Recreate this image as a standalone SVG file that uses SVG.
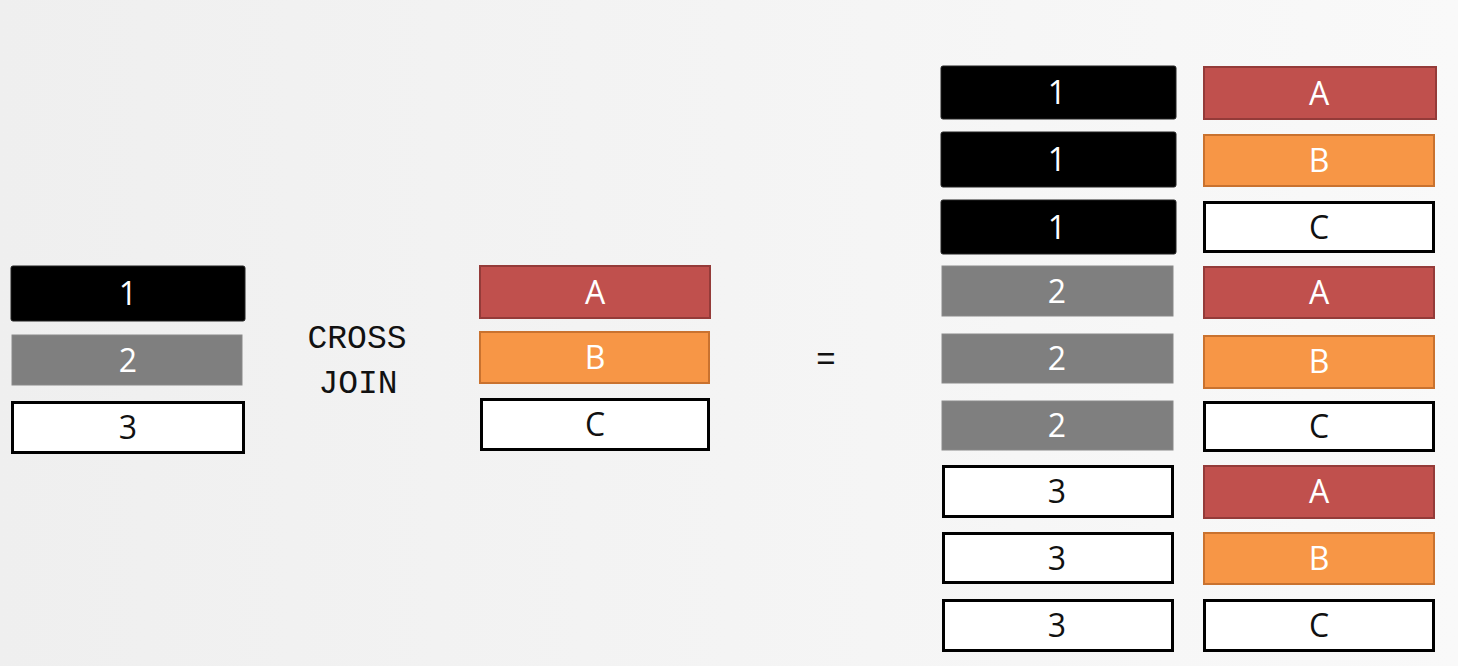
<svg xmlns="http://www.w3.org/2000/svg" width="1458" height="666" viewBox="0 0 1458 666">
<defs>
<linearGradient id="bg" x1="0" y1="0" x2="1" y2="0">
<stop offset="0" stop-color="#efefef"/>
<stop offset="1" stop-color="#f9f9f9"/>
</linearGradient>
</defs>
<style>
.blk{fill:#000;stroke:#222;stroke-width:1}
.gry{fill:#7f7f7f;stroke:#8a8a8a;stroke-width:1}
.wht{fill:#fff;stroke:#000;stroke-width:3}
.red{fill:#c0504d;stroke:#943b39;stroke-width:2}
.org{fill:#f79646;stroke:#c9722f;stroke-width:2}
.t{font-family:"Open Sans","Noto Sans",sans-serif;font-size:32px;text-anchor:middle}
.tw{fill:#fff}
.tb{fill:#111}
.mono{font-family:"Liberation Mono","DejaVu Sans Mono",monospace;font-size:33px;fill:#111;text-anchor:middle}
</style>
<rect width="1458" height="666" fill="url(#bg)"/>

<g id="left-1"><rect class="blk" x="11" y="266" width="234" height="55" rx="2"/><text class="t tw" x="128" y="305">1</text></g>
<g id="left-2"><rect class="gry" x="12" y="335" width="230" height="50"/><text class="t tw" x="128" y="371.5">2</text></g>
<g id="left-3"><rect class="wht" x="12.5" y="402.5" width="231" height="50"/><text class="t tb" x="128" y="439">3</text></g>

<g id="label-cross-join"><text class="mono" x="357" y="348">CROSS</text><text class="mono" x="358" y="393">JOIN</text></g>

<g id="mid-A"><rect class="red" x="480" y="266" width="230" height="52"/><text class="t tw" x="595" y="303.5">A</text></g>
<g id="mid-B"><rect class="org" x="480" y="332" width="229" height="51"/><text class="t tw" x="595" y="369">B</text></g>
<g id="mid-C"><rect class="wht" x="481.5" y="399.5" width="227" height="50"/><text class="t tb" x="595" y="436">C</text></g>

<g id="equals"><text class="mono" x="826" y="370">=</text></g>

<g id="r1-1"><rect class="blk" x="941" y="66" width="235" height="53" rx="2"/><text class="t tw" x="1057" y="104">1</text></g>
<g id="r2-1"><rect class="blk" x="941" y="132" width="235" height="55" rx="2"/><text class="t tw" x="1057" y="171">1</text></g>
<g id="r3-1"><rect class="blk" x="941" y="200" width="235" height="54" rx="2"/><text class="t tw" x="1057" y="238.5">1</text></g>
<g id="r4-2"><rect class="gry" x="942" y="266" width="231" height="50"/><text class="t tw" x="1057" y="302.5">2</text></g>
<g id="r5-2"><rect class="gry" x="942" y="334" width="231" height="49"/><text class="t tw" x="1057" y="370">2</text></g>
<g id="r6-2"><rect class="gry" x="942" y="401" width="231" height="49"/><text class="t tw" x="1057" y="437">2</text></g>
<g id="r7-3"><rect class="wht" x="943.5" y="466.5" width="229" height="50"/><text class="t tb" x="1057" y="503">3</text></g>
<g id="r8-3"><rect class="wht" x="943.5" y="533.5" width="229" height="49"/><text class="t tb" x="1057" y="569.5">3</text></g>
<g id="r9-3"><rect class="wht" x="943.5" y="600.5" width="229" height="50"/><text class="t tb" x="1057" y="637">3</text></g>

<g id="r1-A"><rect class="red" x="1204" y="67" width="232" height="52"/><text class="t tw" x="1319" y="104.5">A</text></g>
<g id="r2-B"><rect class="org" x="1204" y="135" width="230" height="51"/><text class="t tw" x="1319" y="172">B</text></g>
<g id="r3-C"><rect class="wht" x="1204.5" y="202.5" width="229" height="49"/><text class="t tb" x="1319" y="238.5">C</text></g>
<g id="r4-A"><rect class="red" x="1204" y="267" width="230" height="51"/><text class="t tw" x="1319" y="304">A</text></g>
<g id="r5-B"><rect class="org" x="1204" y="336" width="230" height="52"/><text class="t tw" x="1319" y="373">B</text></g>
<g id="r6-C"><rect class="wht" x="1204.5" y="402.5" width="229" height="48"/><text class="t tb" x="1319" y="438">C</text></g>
<g id="r7-A"><rect class="red" x="1204" y="466" width="230" height="52"/><text class="t tw" x="1319" y="503">A</text></g>
<g id="r8-B"><rect class="org" x="1204" y="533" width="230" height="51"/><text class="t tw" x="1319" y="570">B</text></g>
<g id="r9-C"><rect class="wht" x="1204.5" y="600.5" width="229" height="50"/><text class="t tb" x="1319" y="637">C</text></g>

<g id="connectors"/>
</svg>
